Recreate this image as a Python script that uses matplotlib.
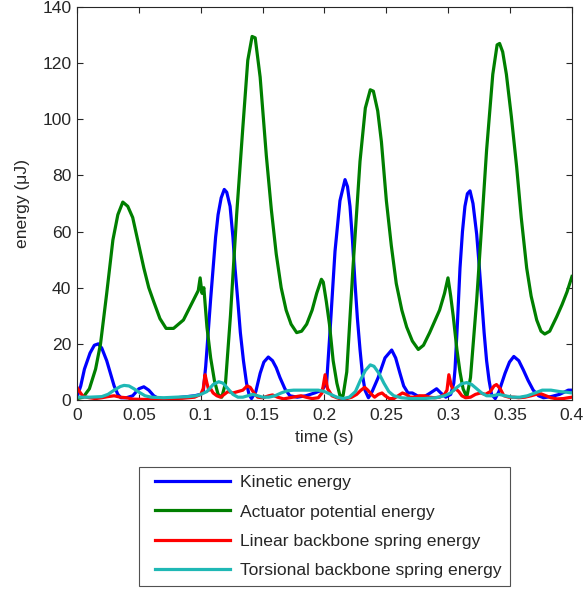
import matplotlib
matplotlib.use("Agg")
import matplotlib.pyplot as plt
from matplotlib.legend_handler import HandlerLine2D

plt.rcParams['font.family'] = ['Liberation Sans', 'DejaVu Sans']

# Kinetic energy (uJ)
t_kin = [0.000, 0.003, 0.006, 0.0105, 0.014, 0.0172, 0.020, 0.024, 0.027, 0.030, 0.033, 0.0355,
         0.040, 0.045, 0.050, 0.054, 0.058, 0.062, 0.066, 0.075, 0.085, 0.095, 0.100, 0.102,
         0.104, 0.106, 0.108, 0.110, 0.112, 0.114, 0.1165, 0.119, 0.121, 0.1237, 0.126, 0.1277,
         0.130, 0.132, 0.1345, 0.137, 0.139, 0.141, 0.1445, 0.148, 0.151, 0.1546, 0.158, 0.161,
         0.164, 0.168, 0.172, 0.178, 0.185, 0.192, 0.198, 0.2017, 0.2044, 0.2085, 0.2125,
         0.2166, 0.2186, 0.2206, 0.2226, 0.2246, 0.2266, 0.2287, 0.2307, 0.2327, 0.2355,
         0.2385, 0.2434, 0.2489, 0.2543, 0.2575, 0.261, 0.264, 0.2675, 0.271, 0.275, 0.280,
         0.2855, 0.2906, 0.294, 0.298, 0.302, 0.3045, 0.3055, 0.3075, 0.3095, 0.3115, 0.3135,
         0.3155, 0.3176, 0.320, 0.323, 0.325, 0.327, 0.329, 0.331, 0.333, 0.335, 0.338, 0.341,
         0.3459, 0.3495, 0.353, 0.357, 0.3607, 0.3645, 0.3687, 0.373, 0.377, 0.383, 0.390,
         0.397, 0.400]
e_kin = [1, 5, 11, 16.7, 19.5, 20, 18.5, 14, 9.5, 5, 2, 0.8,
         0.8, 1.5, 4, 4.7, 3.5, 1.5, 0.5, 0.5, 1, 1.5, 2, 3,
         12, 24, 36, 47, 58, 66, 72, 75, 74, 69, 58, 47,
         35, 24, 14, 6, 2, 0.5, 3, 9.5, 13.5, 15.3, 14, 11.5,
         8, 4, 1.5, 1, 1.5, 2.5, 3.5, 6, 24, 53, 71,
         78.5, 76, 69, 57, 42, 29, 18, 9, 3.5, 0.8,
         3, 8, 15, 17.8, 15, 9.5, 5, 2.5, 2.5, 1.5, 1,
         2.5, 4, 2.5, 1, 2, 6, 11, 28, 47, 60, 69,
         73.5, 74.5, 70, 59, 48, 36, 24, 14, 7, 2, 0.5, 3,
         9.5, 13.5, 15.5, 14, 10.7, 7, 3.5, 1.5, 0.8, 1.2, 2,
         3.5, 3.5]

# Actuator potential energy (uJ)
t_act = [0.000, 0.005, 0.010, 0.015, 0.019, 0.024, 0.029, 0.033, 0.037, 0.041, 0.045, 0.050,
         0.054, 0.058, 0.062, 0.067, 0.072, 0.078, 0.082, 0.086, 0.090, 0.094, 0.098, 0.0995,
         0.101, 0.1025, 0.105, 0.108, 0.111, 0.114, 0.117, 0.120, 0.124, 0.129, 0.134, 0.138,
         0.1415, 0.144, 0.148, 0.153, 0.157, 0.161, 0.165, 0.169, 0.173, 0.1775, 0.1815,
         0.1856, 0.190, 0.1937, 0.1975, 0.199, 0.2015, 0.204, 0.207, 0.210, 0.2125, 0.215,
         0.218, 0.223, 0.2287, 0.233, 0.237, 0.2395, 0.243, 0.246, 0.250, 0.254, 0.258,
         0.2625, 0.2664, 0.271, 0.2758, 0.280, 0.285, 0.289, 0.293, 0.297, 0.2998, 0.302,
         0.304, 0.307, 0.3095, 0.312, 0.315, 0.318, 0.323, 0.327, 0.331, 0.336, 0.3395,
         0.3415, 0.344, 0.347, 0.351, 0.3553, 0.359, 0.3634, 0.367, 0.3715, 0.375, 0.378,
         0.382, 0.3876, 0.392, 0.396, 0.400]
e_act = [0.5, 1, 4, 11, 20, 38, 57, 66, 70.5, 69, 65, 55,
         47, 40, 35, 29, 25.5, 25.5, 27, 28.5, 32, 35.5, 39, 43.5,
         38, 40, 26, 15, 7, 2, 1, 6, 30, 66, 97, 121,
         129.5, 129, 115, 87, 68, 52, 40, 32, 27, 24, 24.5,
         27, 32, 38, 43, 42, 35, 27, 14, 6, 1.5, 1.5,
         10, 47, 85, 104, 110.5, 110, 103, 92, 71, 55, 41.5,
         32, 26, 21, 18, 19.5, 24, 28, 32, 38, 43.5, 37,
         30, 18, 10, 4, 1, 8, 35.6, 62, 89, 116, 126.5,
         127, 124, 116, 101, 83, 65, 47, 37, 28.5, 24.5, 23.5,
         24.5, 29.6, 34, 38.5, 44]

# Linear backbone spring energy (uJ)
t_lin = [0.000, 0.002, 0.005, 0.010, 0.015, 0.020, 0.025, 0.030, 0.035, 0.040, 0.045, 0.055,
         0.065, 0.075, 0.085, 0.095, 0.100, 0.102, 0.1035, 0.105, 0.1065, 0.108, 0.110, 0.113,
         0.116, 0.119, 0.122, 0.126, 0.130, 0.134, 0.1375, 0.140, 0.143, 0.146, 0.150, 0.155,
         0.158, 0.162, 0.167, 0.172, 0.177, 0.181, 0.185, 0.190, 0.195, 0.198, 0.2005, 0.2025,
         0.204, 0.206, 0.210, 0.214, 0.218, 0.222, 0.226, 0.2295, 0.2325, 0.235, 0.238, 0.2405,
         0.2435, 0.2465, 0.249, 0.2525, 0.256, 0.2595, 0.263, 0.266, 0.269, 0.273, 0.277,
         0.281, 0.285, 0.289, 0.293, 0.297, 0.299, 0.3005, 0.3025, 0.3045, 0.306, 0.3085,
         0.311, 0.314, 0.318, 0.322, 0.326, 0.330, 0.334, 0.337, 0.339, 0.342, 0.345, 0.349,
         0.353, 0.357, 0.362, 0.367, 0.371, 0.375, 0.379, 0.383, 0.388, 0.393, 0.397, 0.400]
e_lin = [4.5, 3, 1.2, 0.8, 0.5, 0.8, 1.2, 1.5, 1, 0.8, 0.3, 0.2,
         0.3, 0.5, 0.6, 1, 2, 4, 9, 6, 3.5, 4, 2.5, 1.5,
         1, 2, 3, 2.5, 3, 3.5, 5, 4.5, 2.5, 1, 0.8, 1.5,
         1.8, 1, 0.4, 0.8, 1.2, 1.5, 1, 0.5, 0.8, 2.5, 9, 4,
         3, 1.5, 0.8, 0.3, 0.5, 1, 2, 3.5, 4.5, 3.5, 2, 1,
         2, 2.5, 1.5, 0.5, 0.5, 1.5, 2.5, 2, 1, 1, 1.5,
         1.5, 1, 0.8, 1, 2, 3.5, 9, 5, 3.5, 4, 3,
         1.5, 0.8, 1, 2, 2.5, 2, 3, 5, 5.5, 4, 1.5, 1,
         1, 0.8, 1, 1.5, 2, 2.2, 1.5, 0.8, 0.4, 0.5, 0.8, 1]

# Torsional backbone spring energy (uJ)
t_tor = [0.000, 0.010, 0.020, 0.025, 0.030, 0.035, 0.038, 0.042, 0.046, 0.050, 0.055, 0.060,
         0.070, 0.080, 0.090, 0.096, 0.100, 0.105, 0.110, 0.1145, 0.118, 0.122, 0.126, 0.130,
         0.134, 0.138, 0.142, 0.146, 0.150, 0.155, 0.160, 0.165, 0.170, 0.175, 0.185, 0.195,
         0.200, 0.205, 0.210, 0.215, 0.220, 0.225, 0.229, 0.233, 0.237, 0.240, 0.244, 0.248,
         0.252, 0.256, 0.262, 0.270, 0.280, 0.290, 0.297, 0.302, 0.307, 0.311, 0.315, 0.319,
         0.323, 0.327, 0.331, 0.336, 0.341, 0.346, 0.352, 0.358, 0.364, 0.370, 0.376, 0.383,
         0.390, 0.395, 0.400]
e_tor = [1, 1, 1.2, 2, 3.5, 4.8, 5.2, 5, 4, 2.8, 1.5, 1,
         0.8, 1, 1.2, 1.5, 2, 3, 5.5, 6.5, 6, 4, 2, 1,
         1, 1.5, 2, 1.5, 1, 1, 1.5, 2.5, 3.3, 3.5, 3.5, 3.5,
         3, 2, 1, 0.5, 1, 3, 7, 10.5, 12.5, 12, 9.5, 6,
         3, 1.5, 0.8, 0.5, 0.5, 0.8, 1.5, 2.5, 4.5, 5.8, 6.2, 5.5,
         4, 2.5, 1.5, 1.5, 2, 1.5, 1, 1, 1.5, 2.5, 3.5, 3.5,
         3, 2.8, 2.5]

series_labels = ['Kinetic energy', 'Actuator potential energy',
                 'Linear backbone spring energy', 'Torsional backbone spring energy']
series_colors = ['#0000ff', '#007f00', '#ff0000', '#1fb8b5']

x_ticks = [0, 0.05, 0.1, 0.15, 0.2, 0.25, 0.3, 0.35, 0.4]
x_tick_labels = ['0', '0.05', '0.1', '0.15', '0.2', '0.25', '0.3', '0.35', '0.4']
y_ticks = [0, 20, 40, 60, 80, 100, 120, 140]

FS = 12.6
INK = '#262626'

fig = plt.figure(figsize=(5.87, 5.91), dpi=100)
ax = fig.add_axes([0.1312, 0.3232, 0.8432, 0.6650])

data = [(t_kin, e_kin), (t_act, e_act), (t_lin, e_lin), (t_tor, e_tor)]
handles = []
for (t, e), lab, col in zip(data, series_labels, series_colors):
    h, = ax.plot(t, e, color=col, lw=2.3, label=lab, solid_joinstyle='round')
    handles.append(h)

ax.set_xlim(0, 0.4)
ax.set_ylim(0, 140)
ax.set_xticks(x_ticks)
ax.set_xticklabels(x_tick_labels)
ax.set_yticks(y_ticks)
ax.tick_params(direction='in', length=4, width=0.8, top=True, right=True,
               labelsize=FS, colors=INK)
ax.tick_params(axis='x', pad=6)
ax.tick_params(axis='y', pad=4)
for s in ax.spines.values():
    s.set_linewidth(0.8)
    s.set_color(INK)
ax.set_xlabel('time (s)', fontsize=FS, color=INK, labelpad=5)
ax.set_ylabel('energy (\u03bcJ)', fontsize=FS, color=INK, labelpad=9)

# legend lines start a little inside their handle box
handler = HandlerLine2D(xpad=0.46)
leg = fig.legend(handles=handles, loc='upper center',
                 bbox_to_anchor=(0.5529, 1 - 467 / 591),
                 fontsize=FS, frameon=True, fancybox=False,
                 handlelength=4.75, handletextpad=0.57, labelspacing=0.8,
                 borderpad=0.46, borderaxespad=0.0,
                 handler_map={h: handler for h in handles})
leg.get_frame().set_edgecolor(INK)
leg.get_frame().set_linewidth(0.8)
for txt in leg.get_texts():
    txt.set_color(INK)

fig.savefig('out.png', dpi=100)
